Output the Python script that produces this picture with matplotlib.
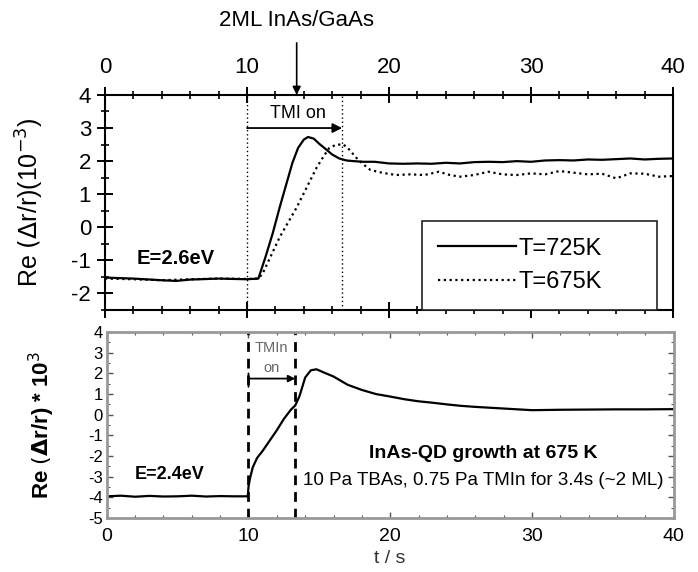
import matplotlib.pyplot as plt
from matplotlib.ticker import MultipleLocator
import numpy as np

plt.rcParams['font.family'] = ['Liberation Sans', 'DejaVu Sans']
plt.rcParams['axes.unicode_minus'] = False

# top panel, E=2.6 eV
t_725 = [0, 2, 4, 5, 6, 8, 10, 10.8, 11.3, 11.8, 12.3, 12.8, 13.2, 13.6, 14.0,
         14.3, 14.7, 15.1, 15.5, 16.0, 16.5, 17.0, 17.5, 18.2, 19, 20, 21, 22,
         23, 24, 25, 26, 27, 28, 29, 30, 31, 32, 33, 34, 35, 36, 37, 38, 39, 40]
r_725 = [-1.52, -1.55, -1.6, -1.62, -1.58, -1.55, -1.57, -1.55, -0.9, -0.2,
         0.6, 1.35, 1.95, 2.4, 2.65, 2.73, 2.68, 2.52, 2.38, 2.2, 2.08, 2.02,
         2.0, 1.98, 1.98, 1.93, 1.92, 1.93, 1.92, 1.95, 1.93, 1.97, 1.98, 1.97,
         2.0, 1.98, 2.02, 2.03, 2.02, 2.05, 2.04, 2.06, 2.08, 2.05, 2.07, 2.08]

t_675 = [0, 2, 4, 6, 8, 10, 10.8, 11.1, 11.7, 12.3, 12.9, 13.5, 14.2, 14.9,
         15.4, 15.8, 16.3, 16.8, 17.2, 17.7, 18.2, 18.7, 19.5, 20.5, 21.5, 22.5,
         23.5, 24.3, 25, 26, 27, 28, 29, 30, 31, 32, 33, 34, 35, 36, 37, 38, 39, 40]
r_675 = [-1.55, -1.57, -1.6, -1.57, -1.55, -1.56, -1.55, -1.4, -0.85, -0.3,
         0.15, 0.6, 1.2, 1.8, 2.15, 2.4, 2.5, 2.5, 2.35, 2.1, 1.9, 1.73, 1.65,
         1.58, 1.6, 1.58, 1.68, 1.58, 1.53, 1.58, 1.68, 1.6, 1.58, 1.63, 1.6,
         1.7, 1.65, 1.6, 1.62, 1.48, 1.63, 1.62, 1.53, 1.55]

# bottom panel, E=2.4 eV
t_qd = [0, 1, 2, 3, 4, 5, 6, 7, 8, 9, 9.95, 10.0, 10.1, 10.3, 10.6, 11.0, 11.5,
        12.0, 12.5, 13.0, 13.3, 13.6, 14.0, 14.4, 14.8, 15.3, 16, 17, 18, 19,
        20, 21, 22, 23, 24, 25, 26, 27, 28, 29, 30, 32, 34, 36, 38, 40]
r_qd = [-3.95, -3.92, -3.97, -3.93, -3.96, -3.95, -3.92, -3.96, -3.94, -3.95,
        -3.95, -3.5, -3.1, -2.55, -2.1, -1.75, -1.25, -0.75, -0.2, 0.25, 0.45,
        0.9, 1.8, 2.15, 2.2, 2.05, 1.85, 1.45, 1.2, 1.0, 0.88, 0.75, 0.65, 0.58,
        0.5, 0.43, 0.38, 0.34, 0.3, 0.26, 0.22, 0.24, 0.25, 0.26, 0.26, 0.27]

tmi_top = [10, 16.7]
tmi_bot = [10, 13.3]

fig = plt.figure(figsize=(6.98, 5.72), dpi=100)
ax1 = fig.add_axes([0.1504, 0.458, 0.8138, 0.376])
ax2 = fig.add_axes([0.153, 0.0944, 0.812, 0.325])

# ---- top panel
ax1.plot(t_725, r_725, '-', color='black', lw=1.6, label='T=725K')
ax1.plot(t_675, r_675, color='black', lw=1.6, ls=(0, (1, 1.6)), label='T=675K')
for xv in tmi_top:
    ax1.axvline(xv, color='black', lw=1.0, ls=(0, (1, 2)))
ax1.annotate('', xy=(tmi_top[1], 3.0), xytext=(tmi_top[0], 3.0),
             arrowprops=dict(arrowstyle='-|>', color='black', lw=1.3,
                             mutation_scale=14, shrinkA=0, shrinkB=0))
ax1.text(13.6, 3.45, 'TMI on', ha='center', va='center', fontsize=13)
ax1.text(5.0, -0.95, 'E=2.6eV', ha='center', va='center', fontsize=14.5,
         fontweight='bold')
ax1.annotate('', xy=(13.5, 1.0), xycoords=('data', 'axes fraction'),
             xytext=(13.5, 1.242), textcoords=('data', 'axes fraction'),
             arrowprops=dict(arrowstyle='-|>', color='black', lw=1.2,
                             mutation_scale=12, shrinkA=0, shrinkB=0))
ax1.text(13.5, 1.344, '2ML InAs/GaAs', transform=ax1.get_xaxis_transform(),
         ha='center', va='center', fontsize=16)

ax1.set_xlim(0, 40)
ax1.set_ylim(-2.5, 4)
ax1.xaxis.set_major_locator(MultipleLocator(10))
ax1.xaxis.set_minor_locator(MultipleLocator(2))
ax1.yaxis.set_major_locator(MultipleLocator(1))
ax1.yaxis.set_minor_locator(MultipleLocator(0.5))
ax1.tick_params(axis='x', which='both', top=True, bottom=True,
                labeltop=True, labelbottom=False, direction='inout')
ax1.tick_params(axis='y', which='both', left=True, right=False,
                direction='inout')
ax1.tick_params(which='major', length=12, width=1.4, labelsize=16)
ax1.tick_params(which='minor', length=6, width=1.2)
ax1.tick_params(axis='x', pad=6)
ax1.tick_params(axis='y', pad=4)
for s in ax1.spines.values():
    s.set_linewidth(1.5)
ax1.set_ylabel(r'Re $(\Delta$r/r)(10$^{-3}$)', fontsize=18, labelpad=18)

leg = ax1.legend(loc='lower left', bbox_to_anchor=(0.558, 0.0, 0.414, 0.42),
                 mode='expand', fontsize=17, handlelength=3.3,
                 handletextpad=0.1, borderaxespad=0, borderpad=0.7,
                 labelspacing=0.5, fancybox=False, edgecolor='#222222',
                 framealpha=1)
leg.get_frame().set_linewidth(1.2)

# ---- bottom panel
ax2.plot(t_qd, r_qd, '-', color='black', lw=1.6)
for xv in tmi_bot:
    ax2.axvline(xv, color='black', lw=2.0, ls=(0, (3.5, 2.5)))
ax2.annotate('', xy=(tmi_bot[1], 1.75), xytext=(tmi_bot[0], 1.75),
             arrowprops=dict(arrowstyle='-|>', color='black', lw=1.3,
                             mutation_scale=10, shrinkA=0, shrinkB=0))
ax2.annotate('', xy=(tmi_bot[0], 1.35), xytext=(tmi_bot[0], 2.0),
             arrowprops=dict(arrowstyle='-', color='black', lw=1.3,
                             shrinkA=0, shrinkB=0))
ax2.text(11.6, 3.25, 'TMIn', ha='center', va='center', fontsize=10.5,
         color='#666666')
ax2.text(11.6, 2.25, 'on', ha='center', va='center', fontsize=10.5,
         color='#666666')
ax2.text(4.45, -2.9, 'E=2.4eV', ha='center', va='center', fontsize=13,
         fontweight='bold')
ax2.text(26.6, -1.87, 'InAs-QD growth at 675 K', ha='center', va='center',
         fontsize=14, fontweight='bold')
ax2.text(26.6, -3.2, '10 Pa TBAs, 0.75 Pa TMIn for 3.4s (~2 ML)',
         ha='center', va='center', fontsize=13.5)

ax2.set_xlim(0, 40)
ax2.set_ylim(-5, 4)
ax2.xaxis.set_major_locator(MultipleLocator(10))
ax2.xaxis.set_minor_locator(MultipleLocator(2))
ax2.yaxis.set_major_locator(MultipleLocator(1))
ax2.yaxis.set_minor_locator(MultipleLocator(0.5))
ax2.tick_params(which='both', direction='in', top=True, right=True,
                color='#555555')
ax2.tick_params(which='major', length=4, width=1.0)
ax2.tick_params(which='minor', length=2, width=0.8)
ax2.tick_params(axis='y', pad=3, labelsize=12)
ax2.tick_params(axis='x', pad=7, labelsize=14)
for s in ax2.spines.values():
    s.set_linewidth(2.0)
    s.set_color('#999999')
ax2.set_xlabel('t / s', fontsize=14, labelpad=4, color='#333333')
ax2.set_ylabel(r'Re $(\mathbf{\Delta}$r/r) * 10$^{3}$', fontsize=16,
               fontweight='bold', labelpad=22)

fig.savefig('out.png', dpi=100)
